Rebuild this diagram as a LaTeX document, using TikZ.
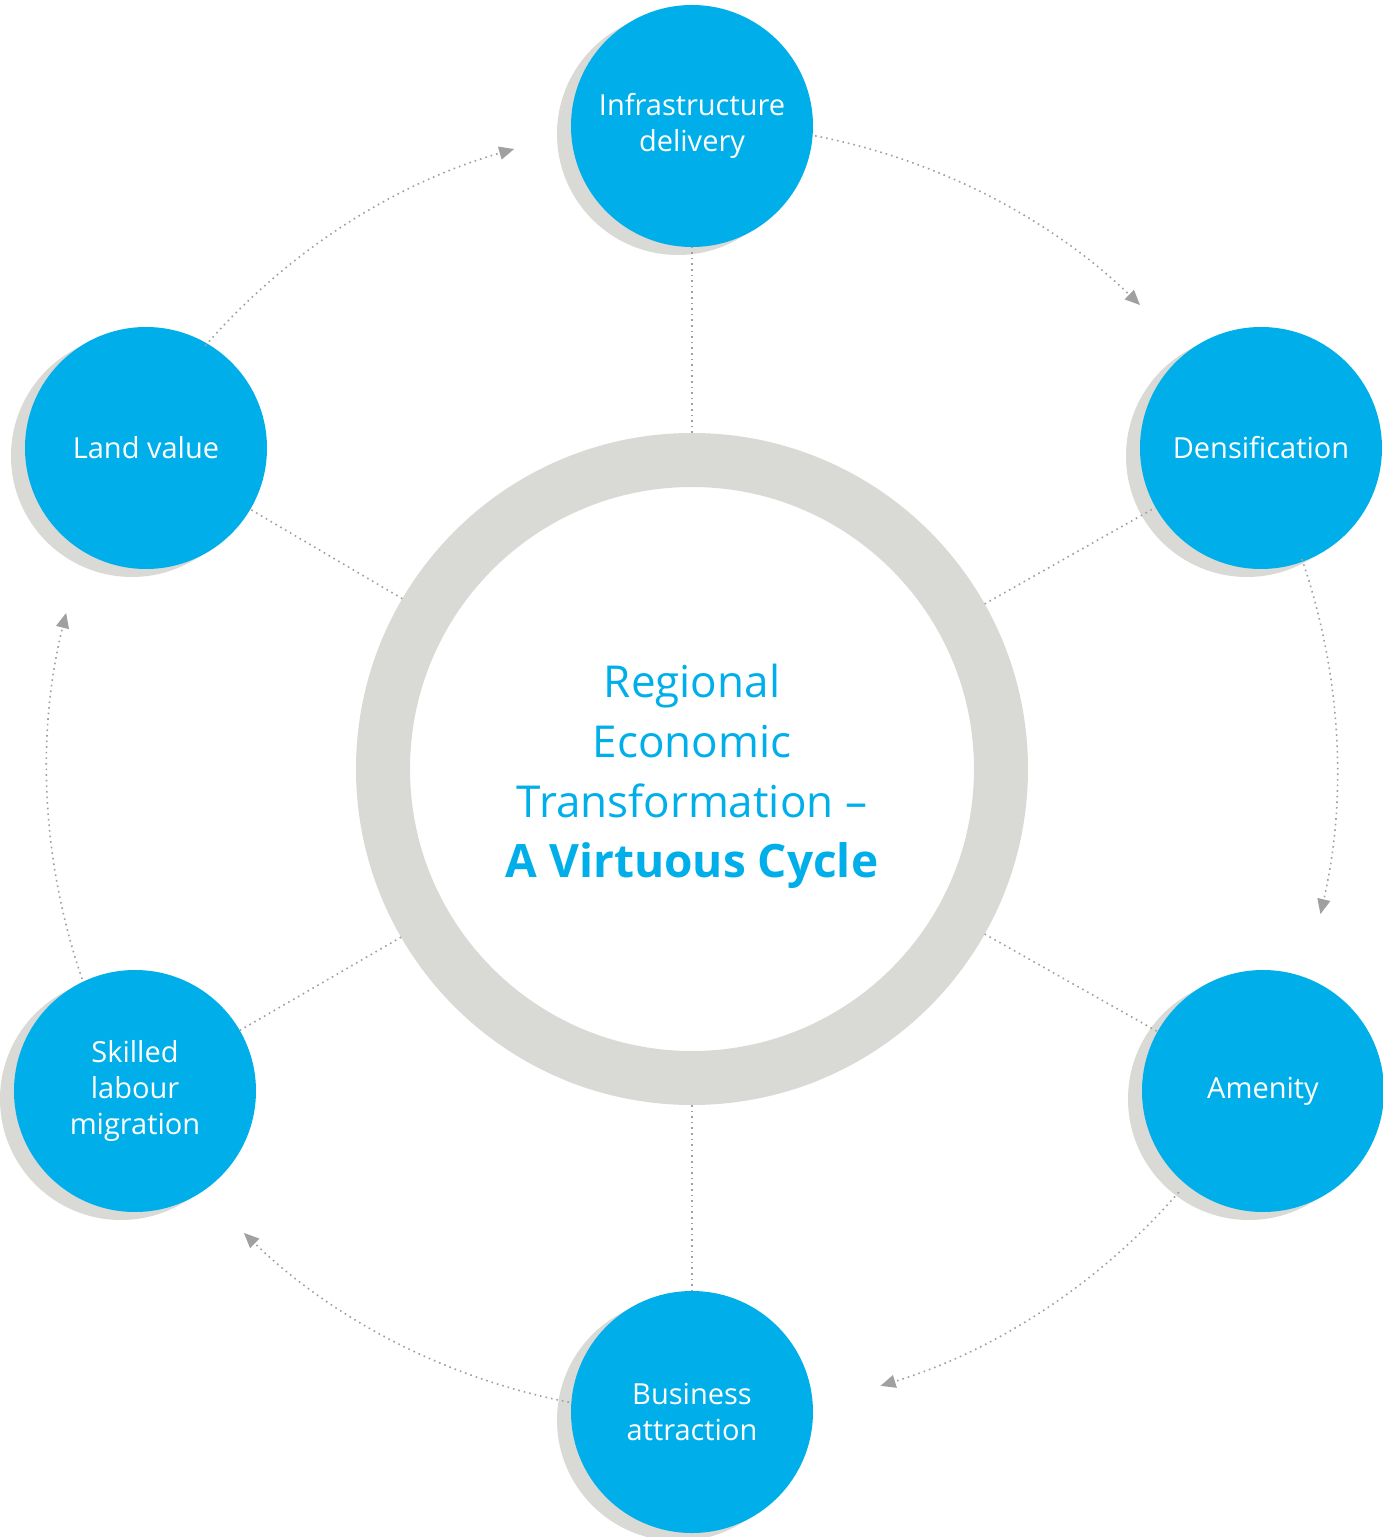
\documentclass[tikz,border=0pt]{standalone}
\usepackage{fontspec}
\setmainfont{Open Sans}
\usepackage{tikz}
\usetikzlibrary{arrows.meta,shadows}

\definecolor{cycleblue}{RGB}{0,175,234}
\definecolor{ringgray}{RGB}{217,217,214}
\definecolor{dotgray}{RGB}{160,160,160}

\begin{document}
\begin{tikzpicture}
  [x=1pt, y=1pt,
   snode/.style={circle, fill=cycleblue, minimum size=242pt, inner sep=0,
                 text=white, align=center, font=\fontsize{29}{36}\selectfont,
                 drop shadow={shadow xshift=-14pt, shadow yshift=-8pt,
                              fill=ringgray, opacity=1}},
   ring/.style={circle, draw=ringgray, line width=54pt, minimum size=618pt,
                inner sep=0, text=cycleblue, align=center,
                font=\fontsize{44}{60}\selectfont},
   spoke/.style={draw=dotgray, line width=1.6pt, dash pattern=on 1.6pt off 4pt},
   turn/.style={spoke, -{Triangle[length=15pt, width=13pt, fill=dotgray]}}]

  \useasboundingbox (-692, -768) rectangle (691, 769);

  % centre ring
  \node[ring] (hub) at (0, 0)
    {\rule{0pt}{48pt}Regional\\Economic\\Transformation --\\
     {\fontsize{46}{60}\selectfont\bfseries A Virtuous Cycle}};

  % stages
  \node[snode] (infra)   at (0, 643)     {Infrastructure\\delivery};
  \node[snode] (dens)    at (569, 321)   {Densification};
  \node[snode] (amen)    at (571, -322)  {Amenity};
  \node[snode] (bus)     at (0, -643)    {Business\\attraction};
  \node[snode] (skilled) at (-557, -322) {Skilled\\labour\\migration};
  \node[snode] (land)    at (-546, 321)  {Land value};

  % spokes
  \draw[spoke] (hub) -- (infra);
  \draw[spoke] (hub) -- (dens);
  \draw[spoke] (hub) -- (amen);
  \draw[spoke] (hub) -- (bus);
  \draw[spoke] (hub) -- (skilled);
  \draw[spoke] (hub) -- (land);

  % cycle arrows
  \coordinate (c1) at (79:645);
  \coordinate (c2) at (19:645);
  \coordinate (c3) at (-41:645);
  \coordinate (c4) at (-101:645);
  \coordinate (c5) at (199:645);
  \coordinate (c6) at (139:645);
  \draw[turn] (c1) arc[start angle=79,   end angle=46,   radius=645];
  \draw[turn] (c2) arc[start angle=19,   end angle=-13,  radius=645];
  \draw[turn] (c3) arc[start angle=-41,  end angle=-73,  radius=645];
  \draw[turn] (c4) arc[start angle=-101, end angle=-134, radius=645];
  \draw[turn] (c5) arc[start angle=199,  end angle=166,  radius=645];
  \draw[turn] (c6) arc[start angle=139,  end angle=106,  radius=645];

\end{tikzpicture}
\end{document}
